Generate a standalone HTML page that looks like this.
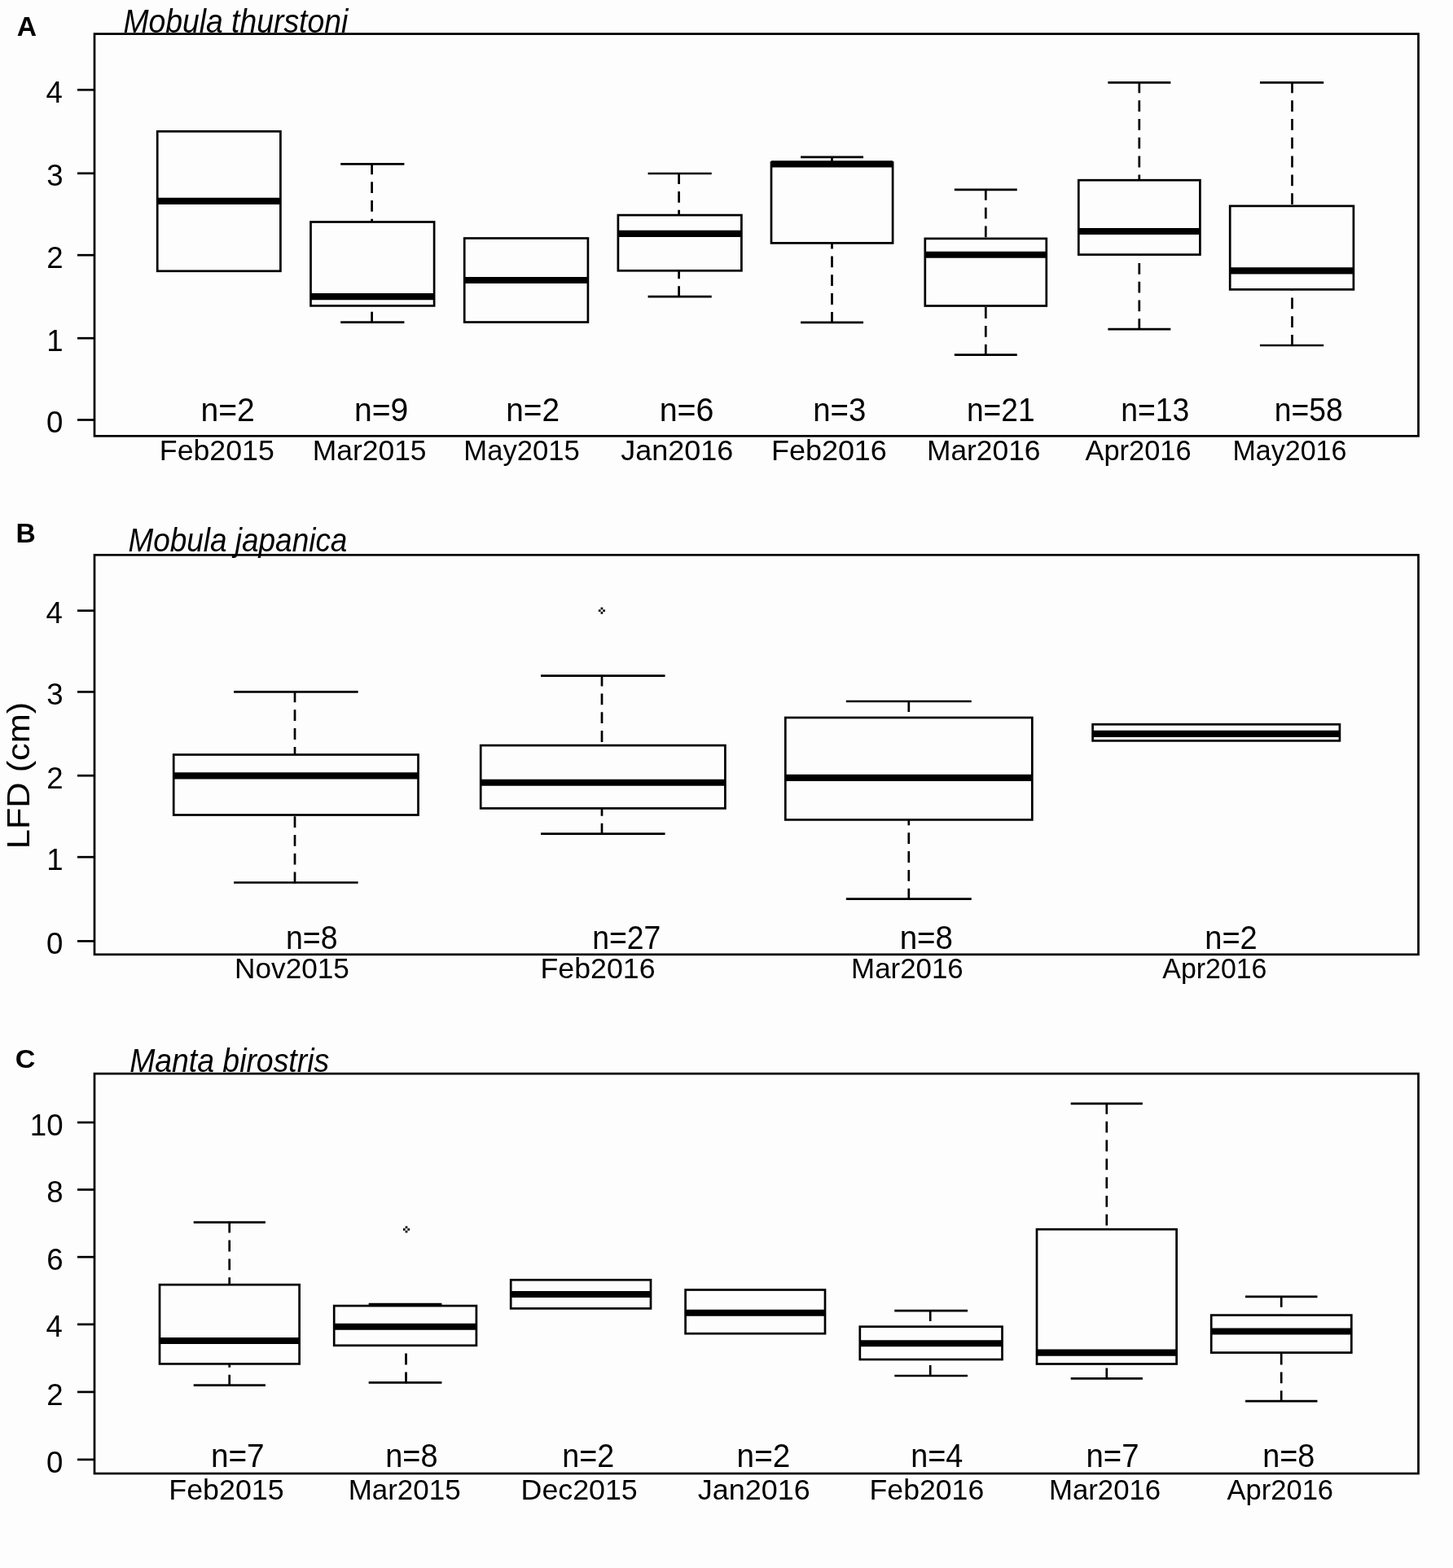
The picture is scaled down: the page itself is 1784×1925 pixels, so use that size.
<!DOCTYPE html>
<html><head><meta charset="utf-8"><title>LFD boxplots</title>
<style>html,body{margin:0;padding:0;background:#fdfdfd;}svg{display:block;}</style>
</head><body>
<svg width="1784" height="1925" viewBox="0 0 1784 1925" font-family='"Liberation Sans", Arial, sans-serif' fill="#000">
<rect width="1784" height="1925" fill="#fdfdfd"/>
<g stroke="#000" stroke-width="2.7" fill="none"><rect x="193.2" y="161.3" width="151.2" height="171.5" fill="none"/><path d="M193.2 246.9H344.4" stroke-width="8.1"/><path d="M456.6 200.4V272.5M456.6 396.5V375.4" stroke-dasharray="13.8 9.0"/><path d="M418.2 201.3H496.4M418.2 395.6H496.4"/><rect x="381.5" y="272.5" width="151.6" height="102.9" fill="none"/><path d="M381.5 364.1H533.1" stroke-width="8.1"/><rect x="570.2" y="292.5" width="151.7" height="103" fill="none"/><path d="M570.2 344H721.9" stroke-width="8.1"/><path d="M833.6 212.1V264.1M833.6 365.1V332.3" stroke-dasharray="13.8 9.0"/><path d="M795.57 213H873.73M795.57 364.2H873.73"/><rect x="758.9" y="264.1" width="151.5" height="68.2" fill="none"/><path d="M758.9 286.9H910.4" stroke-width="8.1"/><path d="M1021.5 191.9V199.5M1021.5 396.7V298.4" stroke-dasharray="13.8 9.0"/><path d="M983.07 192.8H1060.02M983.07 395.8H1060.02"/><rect x="947" y="199.5" width="149.1" height="98.9" fill="none"/><path d="M947 201.4H1096.1" stroke-width="8.1"/><path d="M1210.3 231.9V292.9M1210.3 436.5V375.5" stroke-dasharray="13.8 9.0"/><path d="M1171.85 232.8H1248.75M1171.85 435.6H1248.75"/><rect x="1135.8" y="292.9" width="149" height="82.6" fill="none"/><path d="M1135.8 312.7H1284.8" stroke-width="8.1"/><path d="M1398.8 100.4V221.2M1398.8 405.1V312.6" stroke-dasharray="13.8 9.0"/><path d="M1360.37 101.3H1437.33M1360.37 404.2H1437.33"/><rect x="1324.3" y="221.2" width="149.1" height="91.4" fill="none"/><path d="M1324.3 284H1473.4" stroke-width="8.1"/><path d="M1586.5 100.4V252.9M1586.5 424.9V355.4" stroke-dasharray="13.8 9.0"/><path d="M1546.93 101.3H1625.18M1546.93 424H1625.18"/><rect x="1510.2" y="252.9" width="151.7" height="102.5" fill="none"/><path d="M1510.2 332.4H1661.9" stroke-width="8.1"/></g>
<g stroke="#000" stroke-width="2.7" fill="none"><rect x="116" y="41.6" width="1625.5" height="493.7" fill="none"/><path d="M95 515.5H116"/><path d="M95 415.2H116"/><path d="M95 313.2H116"/><path d="M95 212.8H116"/><path d="M95 110.3H116"/></g>
<text x="56.97" y="531.11" font-size="36.6">0</text>
<text x="57.33" y="430.63" font-size="36.6">1</text>
<text x="57.33" y="328.81" font-size="36.6">2</text>
<text x="57.33" y="228.41" font-size="36.6">3</text>
<text x="56.6" y="125.73" font-size="36.6">4</text>
<text transform="translate(20.69 43.9) scale(1.0135 1)" font-size="33.19" font-weight="bold">A</text>
<text transform="translate(151.38 39.5) scale(0.9329 1)" font-size="40" font-style="italic">Mobula thurstoni</text>
<text transform="translate(246.46 516.7) scale(0.9778 1)" font-size="40">n=2</text>
<text transform="translate(434.96 516.7) scale(0.9778 1)" font-size="40">n=9</text>
<text transform="translate(621.18 516.7) scale(0.9699 1)" font-size="40">n=2</text>
<text transform="translate(809.64 516.7) scale(0.9858 1)" font-size="40">n=6</text>
<text transform="translate(998.21 516.7) scale(0.9604 1)" font-size="40">n=3</text>
<text transform="translate(1187 516.7) scale(0.9272 1)" font-size="40">n=21</text>
<text transform="translate(1376.19 516.7) scale(0.9334 1)" font-size="40">n=13</text>
<text transform="translate(1564.69 516.7) scale(0.9334 1)" font-size="40">n=58</text>
<text transform="translate(195.84 565.2) scale(1.0118 1)" font-size="35.3">Feb2015</text>
<text transform="translate(383.77 565.2) scale(1.0034 1)" font-size="35.3">Mar2015</text>
<text transform="translate(569.33 565.2) scale(0.9805 1)" font-size="35.3">May2015</text>
<text transform="translate(762.18 565.2) scale(1.0204 1)" font-size="35.3">Jan2016</text>
<text transform="translate(946.92 565.2) scale(1.0189 1)" font-size="35.3">Feb2016</text>
<text transform="translate(1137.97 565.2) scale(1.0019 1)" font-size="35.3">Mar2016</text>
<text transform="translate(1332.5 565.2) scale(0.9748 1)" font-size="35.3">Apr2016</text>
<text transform="translate(1513.48 565.2) scale(0.9635 1)" font-size="35.3">May2016</text>
<g stroke="#000" stroke-width="2.7" fill="none"><path d="M362 848.5V926.5M362 1084.4V1000.5" stroke-dasharray="13.8 9.0"/><path d="M287.08 849.4H439.62M287.08 1083.5H439.62"/><rect x="213.2" y="926.5" width="300.3" height="74" fill="none"/><path d="M213.2 952.4H513.5" stroke-width="8.1"/><path d="M739 828.7V915.1M739 1024.6V992.4" stroke-dasharray="13.8 9.0"/><path d="M664.05 829.6H816.55M664.05 1023.7H816.55"/><rect x="590.2" y="915.1" width="300.2" height="77.3" fill="none"/><path d="M590.2 960.7H890.4" stroke-width="8.1"/><path d="M1115.8 860.1V881M1115.8 1104.5V1006.4" stroke-dasharray="13.8 9.0"/><path d="M1038.85 861H1192.75M1038.85 1103.6H1192.75"/><rect x="964.3" y="881" width="303" height="125.4" fill="none"/><path d="M964.3 954.9H1267.3" stroke-width="8.1"/><rect x="1341.6" y="889.3" width="303.3" height="20.1" fill="none"/><path d="M1341.6 900.9H1644.9" stroke-width="8.1"/></g>
<g fill="#000"><rect x="737.55" y="745.65" width="2.7" height="2.7"/><rect x="737.55" y="751.05" width="2.7" height="2.7"/><rect x="734.85" y="748.35" width="2.7" height="2.7"/><rect x="740.25" y="748.35" width="2.7" height="2.7"/></g>
<g stroke="#000" stroke-width="2.7" fill="none"><rect x="116" y="681.3" width="1625.5" height="490.5" fill="none"/><path d="M95 1155.4H116"/><path d="M95 1052.2H116"/><path d="M95 952.2H116"/><path d="M95 849.4H116"/><path d="M95 749.7H116"/></g>
<text x="56.97" y="1171.01" font-size="36.6">0</text>
<text x="57.33" y="1067.63" font-size="36.6">1</text>
<text x="57.33" y="967.81" font-size="36.6">2</text>
<text x="57.33" y="865.01" font-size="36.6">3</text>
<text x="56.6" y="765.13" font-size="36.6">4</text>
<text transform="translate(19.55 665.9) scale(0.9867 1)" font-size="34.06" font-weight="bold">B</text>
<text transform="translate(157.39 676.6) scale(0.9235 1)" font-size="40" font-style="italic">Mobula japanica</text>
<text transform="translate(350.98 1164.8) scale(0.9367 1)" font-size="40">n=8</text>
<text transform="translate(727.18 1164.8) scale(0.9343 1)" font-size="40">n=27</text>
<text transform="translate(1104.71 1164.8) scale(0.9620 1)" font-size="40">n=8</text>
<text transform="translate(1479.24 1164.8) scale(0.9509 1)" font-size="40">n=2</text>
<text transform="translate(288.09 1201.3) scale(0.9966 1)" font-size="35.3">Nov2015</text>
<text transform="translate(663.54 1201.3) scale(1.0123 1)" font-size="35.3">Feb2016</text>
<text transform="translate(1045.11 1201.3) scale(0.9885 1)" font-size="35.3">Mar2016</text>
<text transform="translate(1427.3 1201.3) scale(0.9604 1)" font-size="35.3">Apr2016</text>
<g stroke="#000" stroke-width="2.7" fill="none"><path d="M281.7 1499.8V1577.2M281.7 1701.5V1674.4" stroke-dasharray="13.8 9.0"/><path d="M237.7 1500.7H325.9M237.7 1700.6H325.9"/><rect x="196" y="1577.2" width="171.6" height="97.2" fill="none"/><path d="M196 1646H367.6" stroke-width="8.1"/><path d="M498.5 1600.3V1603.1M498.5 1698.2V1651.8" stroke-dasharray="13.8 9.0"/><path d="M452.67 1601.2H542.42M452.67 1697.3H542.42"/><rect x="410.2" y="1603.1" width="174.7" height="48.7" fill="none"/><path d="M410.2 1628.8H584.9" stroke-width="8.1"/><rect x="627.2" y="1571.3" width="171.8" height="35.1" fill="none"/><path d="M627.2 1589H799" stroke-width="8.1"/><rect x="841.6" y="1583.5" width="171.4" height="53.7" fill="none"/><path d="M841.6 1611.8H1013" stroke-width="8.1"/><path d="M1142.2 1608.3V1628.7M1142.2 1689.9V1669" stroke-dasharray="13.8 9.0"/><path d="M1098.28 1609.2H1188.03M1098.28 1689H1188.03"/><rect x="1055.8" y="1628.7" width="174.7" height="40.3" fill="none"/><path d="M1055.8 1649.2H1230.5" stroke-width="8.1"/><path d="M1358.8 1354V1509.2M1358.8 1693.3V1674.5" stroke-dasharray="13.8 9.0"/><path d="M1314.7 1354.9H1402.9M1314.7 1692.4H1402.9"/><rect x="1273" y="1509.2" width="171.6" height="165.3" fill="none"/><path d="M1273 1660.6H1444.6" stroke-width="8.1"/><path d="M1573.2 1591V1614.6M1573.2 1721.1V1660.6" stroke-dasharray="13.8 9.0"/><path d="M1529.03 1591.9H1617.47M1529.03 1720.2H1617.47"/><rect x="1487.2" y="1614.6" width="172.1" height="46" fill="none"/><path d="M1487.2 1634.5H1659.3" stroke-width="8.1"/></g>
<g fill="#000"><rect x="497.65" y="1505.35" width="2.7" height="2.7"/><rect x="497.65" y="1510.75" width="2.7" height="2.7"/><rect x="494.95" y="1508.05" width="2.7" height="2.7"/><rect x="500.35" y="1508.05" width="2.7" height="2.7"/></g>
<g stroke="#000" stroke-width="2.7" fill="none"><rect x="116" y="1318.1" width="1625.5" height="490.9" fill="none"/><path d="M95 1791.9H116"/><path d="M95 1708.9H116"/><path d="M95 1625.9H116"/><path d="M95 1543.2H116"/><path d="M95 1460.5H116"/><path d="M95 1378H116"/></g>
<text x="56.97" y="1807.51" font-size="36.6">0</text>
<text x="57.33" y="1724.51" font-size="36.6">2</text>
<text x="56.6" y="1641.33" font-size="36.6">4</text>
<text x="57.33" y="1558.81" font-size="36.6">6</text>
<text x="57.33" y="1476.11" font-size="36.6">8</text>
<text x="36.84" y="1393.61" font-size="36.6">10</text>
<text transform="translate(18.83 1310.7) scale(1.0769 1)" font-size="31.71" font-weight="bold">C</text>
<text transform="translate(159.18 1315.6) scale(0.9342 1)" font-size="40" font-style="italic">Manta birostris</text>
<text transform="translate(258.88 1801.2) scale(0.9699 1)" font-size="40">n=7</text>
<text transform="translate(473.25 1801.2) scale(0.9478 1)" font-size="40">n=8</text>
<text transform="translate(690.26 1801.2) scale(0.9415 1)" font-size="40">n=2</text>
<text transform="translate(904.59 1801.2) scale(0.9684 1)" font-size="40">n=2</text>
<text transform="translate(1118.25 1801.2) scale(0.9453 1)" font-size="40">n=4</text>
<text transform="translate(1333.42 1801.2) scale(0.9589 1)" font-size="40">n=7</text>
<text transform="translate(1550.15 1801.2) scale(0.9462 1)" font-size="40">n=8</text>
<text transform="translate(207.33 1840.8) scale(1.0148 1)" font-size="35.3">Feb2015</text>
<text transform="translate(427.7 1840.8) scale(0.9900 1)" font-size="35.3">Mar2015</text>
<text transform="translate(639.54 1840.8) scale(1.0141 1)" font-size="35.3">Dec2015</text>
<text transform="translate(856.78 1840.8) scale(1.0182 1)" font-size="35.3">Jan2016</text>
<text transform="translate(1067.55 1840.8) scale(1.0100 1)" font-size="35.3">Feb2016</text>
<text transform="translate(1287.92 1840.8) scale(0.9856 1)" font-size="35.3">Mar2016</text>
<text transform="translate(1506.5 1840.8) scale(0.9786 1)" font-size="35.3">Apr2016</text>
<text transform="translate(36.3 952) rotate(-90) scale(1.031 0.945)" text-anchor="middle" font-size="42">LFD (cm)</text>
</svg>
</body></html>
